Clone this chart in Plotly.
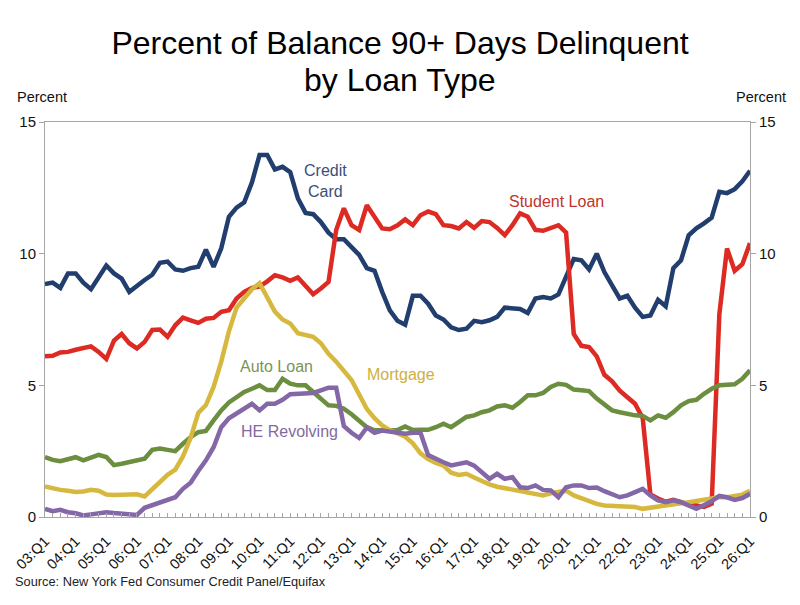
import plotly.graph_objects as go

# quarters 03:Q1 .. 26:Q1
quarters = [f"{y:02d}:Q{q}" for y in range(3, 27) for q in range(1, 5)][:93]

credit_card = [
    8.85, 8.9, 8.7, 9.25, 9.25, 8.9, 8.65, 9.1, 9.55, 9.25,
    9.05, 8.55, 8.8, 9.0, 9.2, 9.65, 9.7, 9.4, 9.35, 9.45,
    9.5, 10.15, 9.5, 10.2, 11.4, 11.75, 11.95, 12.7, 13.75, 13.75,
    13.2, 13.3, 13.1, 12.1, 11.55, 11.5, 11.2, 10.8, 10.55, 10.55,
    10.25, 9.95, 9.45, 9.35, 8.55, 7.85, 7.45, 7.3, 8.4, 8.4,
    8.1, 7.65, 7.5, 7.2, 7.1, 7.15, 7.45, 7.4, 7.47, 7.6,
    7.95, 7.92, 7.9, 7.75, 8.3, 8.35, 8.3, 8.45, 9.1, 9.8,
    9.75, 9.4, 10.0, 9.3, 8.8, 8.3, 8.4, 7.95, 7.6, 7.65,
    8.25, 8.0, 9.45, 9.75, 10.7, 10.96, 11.15, 11.37, 12.35, 12.3,
    12.45, 12.75, 13.15,
]

student_loan = [
    6.1, 6.12, 6.25, 6.27, 6.35, 6.4, 6.48, 6.27, 6.0, 6.7,
    6.95, 6.6, 6.4, 6.65, 7.1, 7.12, 6.84, 7.28, 7.57, 7.47,
    7.37, 7.53, 7.56, 7.79, 7.85, 8.3, 8.55, 8.7, 8.75, 8.95,
    9.18, 9.1, 8.97, 9.1, 8.8, 8.46, 8.68, 8.93, 10.9, 11.72,
    11.08, 10.9, 11.84, 11.4, 10.96, 10.93, 11.08, 11.3, 11.08, 11.46,
    11.6, 11.5, 11.08, 11.05, 10.96, 11.2, 10.98, 11.24, 11.2, 10.98,
    10.7, 11.08, 11.53, 11.4, 10.9, 10.87, 10.96, 11.08, 10.8, 6.95,
    6.5, 6.45, 6.1, 5.4, 5.15, 4.8, 4.55, 4.3, 3.75, 0.85,
    0.7, 0.58, 0.65, 0.55, 0.48, 0.44, 0.38, 0.5, 7.7, 10.2,
    9.35, 9.6, 10.4,
]

auto_loan = [
    2.27, 2.17, 2.12, 2.2, 2.27, 2.15, 2.27, 2.36, 2.28, 1.97,
    2.02, 2.07, 2.14, 2.21, 2.55, 2.6, 2.55, 2.5, 2.78, 3.03,
    3.22, 3.27, 3.67, 4.05, 4.35, 4.55, 4.75, 4.87, 5.0, 4.82,
    4.82, 5.25, 5.06, 5.0, 5.0, 4.75, 4.5, 4.24, 4.22, 4.11,
    3.9, 3.67, 3.41, 3.29, 3.29, 3.28, 3.3, 3.44, 3.3, 3.31,
    3.31, 3.41, 3.54, 3.41, 3.6, 3.8, 3.86, 3.98, 4.05, 4.2,
    4.24, 4.15, 4.37, 4.62, 4.62, 4.71, 4.94, 5.06, 5.02, 4.84,
    4.81, 4.78, 4.5, 4.3, 4.05, 3.98, 3.9, 3.86, 3.84, 3.67,
    3.86, 3.77, 3.98, 4.24, 4.4, 4.45, 4.68, 4.87, 5.0, 5.0,
    5.04, 5.25, 5.57,
]

mortgage = [
    1.16, 1.08, 1.03, 1.0, 0.95, 0.97, 1.03, 1.0, 0.85, 0.84,
    0.86, 0.86, 0.86, 0.78, 1.05, 1.3, 1.6, 1.8, 2.3, 3.0,
    3.95, 4.25, 4.94, 5.9, 7.05, 7.95, 8.3, 8.65, 8.88, 8.3,
    7.8, 7.5, 7.35, 6.98, 6.9, 6.84, 6.6, 6.2, 5.9, 5.57,
    5.2, 4.65, 4.1, 3.75, 3.48, 3.3, 3.18, 3.05, 2.8, 2.42,
    2.2, 2.05, 1.95, 1.68, 1.6, 1.64, 1.5, 1.35, 1.24, 1.15,
    1.1, 1.05, 1.0, 0.95, 0.9, 0.82, 0.9, 0.97, 1.0, 0.82,
    0.7, 0.6, 0.5, 0.44, 0.43, 0.42, 0.42, 0.38, 0.31, 0.36,
    0.4, 0.45, 0.48, 0.52, 0.56, 0.6, 0.63, 0.7, 0.76, 0.75,
    0.8, 0.85, 1.0,
]

he_revolving = [
    0.31, 0.22, 0.27, 0.18, 0.14, 0.06, 0.1, 0.14, 0.18, 0.15,
    0.12, 0.1, 0.08, 0.35, 0.45, 0.55, 0.63, 0.75, 1.07, 1.3,
    1.75, 2.15, 2.65, 3.41, 3.75, 3.95, 4.15, 4.3, 4.05, 4.3,
    4.3, 4.45, 4.66, 4.68, 4.68, 4.71, 4.81, 4.91, 4.91, 3.45,
    3.2, 3.0, 3.4, 3.2, 3.28, 3.25, 3.22, 3.16, 3.2, 3.2,
    2.35, 2.2, 2.08, 1.96, 2.02, 2.08, 1.95, 1.7, 1.45, 1.64,
    1.45, 1.51, 1.13, 1.1, 1.2, 1.03, 1.01, 0.75, 1.13, 1.2,
    1.2, 1.1, 1.12, 0.98, 0.88, 0.75, 0.82, 0.94, 1.07, 0.82,
    0.63, 0.56, 0.63, 0.56, 0.42, 0.31, 0.45, 0.6, 0.8, 0.75,
    0.65, 0.72, 0.88,
]

series = [
    ("Credit Card", credit_card, "#213E6E"),
    ("Student Loan", student_loan, "#DD2A22"),
    ("Auto Loan", auto_loan, "#6B8E3F"),
    ("Mortgage", mortgage, "#D7B83F"),
]

FONT = "Liberation Sans, Arial, sans-serif"

fig = go.Figure()
for name, vals, color in series:
    fig.add_trace(go.Scatter(
        x=quarters, y=vals, mode="lines", name=name,
        line=dict(color=color, width=4.5),
    ))
# HE Revolving goes on the right-hand axis (same scale) so that axis is drawn
fig.add_trace(go.Scatter(
    x=quarters, y=he_revolving, mode="lines", name="HE Revolving",
    line=dict(color="#8367A6", width=4.5), yaxis="y2",
))

# series labels placed in data space
labels = [
    ("Credit<br>Card", 36.6, 12.75, "#3A5078"),
    ("Student Loan", 66.7, 12.0, "#C0342C"),
    ("Auto Loan", 30.2, 5.72, "#7A9456"),
    ("Mortgage", 46.5, 5.42, "#CDB03E"),
    ("HE Revolving", 31.9, 3.25, "#7F6BA0"),
]
for text, lx, ly, c in labels:
    fig.add_annotation(x=lx, y=ly, text=text, showarrow=False,
                       font=dict(size=16, color=c, family=FONT))

# second title line, kept separate to get the tighter line spacing
fig.add_annotation(xref="paper", yref="paper", x=0.5035, y=1.107,
                   xanchor="center", yanchor="middle", text="by Loan Type",
                   showarrow=False, font=dict(size=32, color="#000", family=FONT))
fig.add_annotation(xref="paper", yref="paper", x=-0.043, y=1.063,
                   xanchor="left", yanchor="middle", text="Percent",
                   showarrow=False, font=dict(size=14.5, color="#111", family=FONT))
fig.add_annotation(xref="paper", yref="paper", x=1.054, y=1.063,
                   xanchor="right", yanchor="middle", text="Percent",
                   showarrow=False, font=dict(size=14.5, color="#111", family=FONT))
fig.add_annotation(xref="paper", yref="paper", x=-0.046, y=-0.164,
                   xanchor="left", yanchor="middle",
                   text="Source: New York Fed Consumer Credit Panel/Equifax",
                   showarrow=False, font=dict(size=12.8, color="#222", family=FONT))

axis_gray = "#A6A6A6"
fig.update_layout(
    width=800, height=605,
    paper_bgcolor="white", plot_bgcolor="white",
    showlegend=False,
    font=dict(family=FONT, color="#111"),
    margin=dict(l=45, r=50, t=122, b=88),
    title=dict(
        text="Percent of Balance 90+ Days Delinquent",
        x=0.5, xanchor="center", y=1 - 43 / 605, yanchor="middle",
        font=dict(size=32, color="#000", family=FONT),
    ),
    xaxis=dict(
        type="category", range=[0, 92],
        tickmode="array", tickvals=quarters,
        ticktext=[q if q.endswith("Q1") else "" for q in quarters],
        tickangle=-45, tickfont=dict(size=14.5, color="#111"),
        ticks="inside", ticklen=4, tickcolor=axis_gray,
        ticklabelstandoff=9,
        showline=True, linecolor=axis_gray, linewidth=1, mirror=True,
        showgrid=False, zeroline=False,
    ),
    yaxis=dict(
        range=[0, 15], tickvals=[0, 5, 10, 15],
        ticks="outside", ticklen=5, tickcolor=axis_gray,
        tickfont=dict(size=15, color="#111"),
        showline=True, linecolor=axis_gray, linewidth=1,
        showgrid=False, zeroline=False,
    ),
    yaxis2=dict(
        overlaying="y", side="right", range=[0, 15], tickvals=[0, 5, 10, 15],
        ticks="outside", ticklen=5, tickcolor=axis_gray,
        tickfont=dict(size=15, color="#111"),
        showline=True, linecolor=axis_gray, linewidth=1,
        showgrid=False, zeroline=False,
    ),
)

# drop the default 8px page margin so the figure sits at the window origin
fig.write_html("out.html", config={"displayModeBar": False},
               post_script="document.body.style.margin='0';")
